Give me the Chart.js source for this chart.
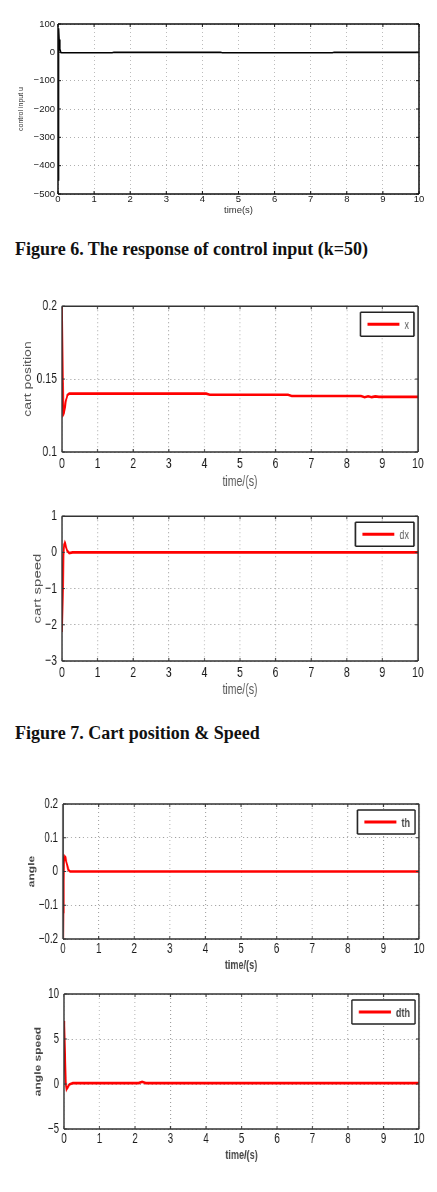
<!DOCTYPE html>
<html>
<head>
<meta charset="utf-8">
<script src="https://cdn.jsdelivr.net/npm/chart.js@4.4.0/dist/chart.umd.min.js"></script>
<style>
body{margin:0;background:#fff;width:437px;height:1192px;position:relative;overflow:hidden}
canvas{position:absolute;left:0;transform-origin:0 0}
.cap{position:absolute;left:15px;font:bold 18px 'Liberation Serif','Times New Roman',serif;line-height:18px;color:#111;white-space:nowrap}
</style>
</head>
<body>
<canvas id="cu" style="top:0px"></canvas>
<div class="cap" style="top:240px">Figure 6. The response of control input (k=50)</div>
<canvas id="cx" style="top:290px"></canvas>
<canvas id="cdx" style="top:500px"></canvas>
<div class="cap" style="top:724px">Figure 7. Cart position &amp; Speed</div>
<canvas id="cth" style="top:785px"></canvas>
<canvas id="cdth" style="top:975px"></canvas>
<script>
// values (time in s)
const tU = [0, 0.01, 0.02, 0.03, 0.05, 0.08, 0.1, 1.5, 1.55, 4.5, 4.55, 7.6, 7.65, 10];
const vU = [-450, 80, 85, 45, 12, -1, -1.5, -1.5, 0, 0, -1.5, -1.5, 0, 0];

const tX = [0, 0.02, 0.04, 0.06, 0.1, 0.15, 0.2, 4.05, 4.15, 6.35, 6.45, 8.4, 8.5, 8.6, 8.7, 8.8, 8.9, 10];
const vX = [0.2, 0.15, 0.126, 0.127, 0.134, 0.139, 0.140, 0.140, 0.1392, 0.1392, 0.1384, 0.1384, 0.1376, 0.1382, 0.1376, 0.1381, 0.1378, 0.1378];

const tDX = [0, 0.02, 0.04, 0.06, 0.08, 0.1, 0.14, 0.2, 0.3, 10];
const vDX = [-2.2, -1.2, -0.1, 0.22, 0.27, 0.2, 0.05, -0.02, 0, 0];

const tTH = [0, 0.01, 0.02, 0.03, 0.05, 0.07, 0.1, 0.15, 0.2, 10];
const vTH = [-0.2, -0.12, -0.03, 0.03, 0.045, 0.042, 0.025, 0.005, 0, 0];

const tDTH = [0, 0.01, 0.03, 0.05, 0.07, 0.1, 0.15, 0.25, 2.1, 2.2, 2.3, 10];
const vDTH = [7, 6.5, 2.5, 0.2, -0.6, -0.4, -0.05, 0.1, 0.1, 0.25, 0.1, 0.1];

const xTicks = [0, 10, 1];

const SANS = "'Liberation Sans',Arial,sans-serif";

function fmt(v) {
  return String(+v.toFixed(3)).replace('-', '\u2212');
}

// rectangle whose vertical edges are widened to survive the horizontal squeeze
function frame(ctx, l, t, w, h, lw, s) {
  ctx.lineWidth = lw;
  ctx.beginPath();
  ctx.moveTo(l, t); ctx.lineTo(l + w, t);
  ctx.moveTo(l, t + h); ctx.lineTo(l + w, t + h);
  ctx.stroke();
  ctx.lineWidth = lw / s;
  ctx.beginPath();
  ctx.moveTo(l, t); ctx.lineTo(l, t + h);
  ctx.moveTo(l + w, t); ctx.lineTo(l + w, t + h);
  ctx.stroke();
}

const boxPlugin = {
  id: 'box',
  afterDraw(chart, args, o) {
    const {ctx, chartArea: a, scales} = chart;
    const s = o.s;
    ctx.save();
    ctx.strokeStyle = o.color;
    ctx.lineWidth = 1 / s;
    ctx.beginPath();
    scales.x.ticks.forEach(t => {
      const p = scales.x.getPixelForValue(t.value);
      ctx.moveTo(p, a.bottom); ctx.lineTo(p, a.bottom - 3);
      ctx.moveTo(p, a.top); ctx.lineTo(p, a.top + 3);
    });
    ctx.stroke();
    ctx.lineWidth = 1;
    ctx.beginPath();
    scales.y.ticks.forEach(t => {
      const p = scales.y.getPixelForValue(t.value);
      ctx.moveTo(a.left, p); ctx.lineTo(a.left + 3 / s, p);
      ctx.moveTo(a.right, p); ctx.lineTo(a.right - 3 / s, p);
    });
    ctx.stroke();
    frame(ctx, a.left, a.top, a.right - a.left, a.bottom - a.top, o.width, s);

    if (o.legend) {
      const ds = chart.data.datasets[0];
      ctx.font = o.legendFont;
      const tw = ctx.measureText(ds.label).width;
      const h = 24, right = a.right - 4 / s, top = a.top + 6;
      const w = (7 + 32 + 5 + 5) / s + tw;
      const left = right - w;
      ctx.fillStyle = '#fff';
      ctx.fillRect(left, top, w, h);
      ctx.strokeStyle = '#222';
      frame(ctx, left, top, w, h, 1.5, s);
      ctx.strokeStyle = ds.borderColor;
      ctx.lineWidth = 3;
      ctx.beginPath();
      ctx.moveTo(left + 7 / s, top + h / 2);
      ctx.lineTo(left + 39 / s, top + h / 2);
      ctx.stroke();
      ctx.fillStyle = o.legendColor;
      ctx.textBaseline = 'middle';
      ctx.fillText(ds.label, left + 44 / s, top + h / 2 + 1);
    }
    ctx.restore();
  }
};

function makeChart(id, g) {
  const s = g.s;
  const W = Math.round(437 / s);
  const cv = document.getElementById(id);
  cv.width = W;
  cv.height = g.h;
  cv.style.transform = 'scaleX(' + (437 / W) + ')';
  const k = W / 437;
  const pts = g.t.map((tt, i) => ({x: tt, y: g.v[i]}));
  return new Chart(cv, {
    type: 'line',
    data: {
      datasets: [{
        label: g.label,
        data: pts,
        borderColor: g.color,
        borderWidth: g.lw,
        pointRadius: 0,
        tension: 0,
        fill: false
      }]
    },
    options: {
      responsive: false,
      animation: false,
      events: [],
      layout: {padding: {left: 0, right: W - g.R * k, top: g.T - g.top, bottom: 0}},
      plugins: {
        legend: {display: false},
        tooltip: {enabled: false},
        box: {s: 1 / k, color: g.frame, width: g.fw, legend: g.legend, legendFont: g.legendFont, legendColor: g.legendColor}
      },
      scales: {
        x: {
          type: 'linear',
          min: xTicks[0], max: xTicks[1],
          afterFit: sc => { sc.height = g.top + g.h - g.B; },
          ticks: {stepSize: xTicks[2], padding: g.xpad, color: '#1a1a1a', font: g.tickFont, maxRotation: 0, callback: fmt},
          grid: {color: g.grid, lineWidth: 0.85 * k, drawTicks: false},
          border: {display: false, dash: [1, 3]},
          title: {display: true, text: g.xTitle, color: g.titleColor, font: g.xTitleFont, padding: {top: 0, bottom: g.xtp}}
        },
        y: {
          type: 'linear',
          min: g.ymin, max: g.ymax,
          afterFit: sc => { sc.width = g.L * k; },
          ticks: {stepSize: g.ystep, padding: g.ypad * k, color: '#1a1a1a', font: g.tickFont, callback: fmt},
          grid: {color: g.grid, lineWidth: 1, drawTicks: false},
          border: {display: false, dash: [1 * k, 3 * k]},
          title: {display: true, text: g.yTitle, color: g.titleColor, font: g.yTitleFont,
                  padding: {top: g.yc * k - g.yTitleFont.size * 0.6, bottom: 0}}
        }
      }
    },
    plugins: [boxPlugin]
  });
}

const redBase = {
  s: 0.7, color: '#ff0000', lw: 2.6, frame: '#333', fw: 1.5, grid: '#9a9a9a', legend: true,
  legendColor: '#555', titleColor: '#555',
  tickFont: {family: SANS, size: 15}, xpad: 3, ypad: 5
};

makeChart('cu', {
  s: 1, t: tU, v: vU, label: 'u', color: '#000', lw: 1.6, frame: '#111', fw: 1.5, grid: '#b0b0b0', legend: false,
  top: 0, h: 222, L: 58, R: 419, T: 24, B: 194,
  ymin: -500, ymax: 100, ystep: 100,
  tickFont: {family: SANS, size: 9.5}, xpad: 0, ypad: 3,
  xTitle: 'time(s)', yTitle: 'control input u', titleColor: '#333',
  xTitleFont: {family: SANS, size: 9.5}, yTitleFont: {family: SANS, size: 7}, xtp: 6, yc: 21
});

makeChart('cx', Object.assign({}, redBase, {
  t: tX, v: vX, label: 'x',
  top: 290, h: 205, L: 62, R: 418, T: 304, B: 452,
  ymin: 0.1, ymax: 0.2, ystep: 0.05,
  xTitle: 'time/(s)', yTitle: 'cart position',
  xTitleFont: {family: SANS, size: 15}, yTitleFont: {family: SANS, size: 14}, xtp: 4, yc: 28,
  legendFont: '13px ' + SANS
}));

makeChart('cdx', Object.assign({}, redBase, {
  t: tDX, v: vDX, label: 'dx',
  top: 500, h: 205, L: 62, R: 418, T: 513, B: 661,
  ymin: -3, ymax: 1, ystep: 1,
  xTitle: 'time/(s)', yTitle: 'cart speed',
  xTitleFont: {family: SANS, size: 15}, yTitleFont: {family: SANS, size: 15}, xtp: 6, yc: 38,
  legendFont: '13px ' + SANS
}));

makeChart('cth', Object.assign({}, redBase, {
  t: tTH, v: vTH, label: 'th',
  top: 785, h: 190, L: 63, R: 419, T: 804, B: 939,
  ymin: -0.2, ymax: 0.2, ystep: 0.1,
  tickFont: {family: SANS, size: 14}, xpad: 2,
  xTitle: 'time/(s)', yTitle: 'angle', titleColor: '#444',
  xTitleFont: {family: SANS, size: 13, weight: 'bold'}, yTitleFont: {family: SANS, size: 12, weight: 'bold'}, xtp: 2, yc: 32,
  legendFont: 'bold 13px ' + SANS, legendColor: '#444'
}));

makeChart('cdth', Object.assign({}, redBase, {
  t: tDTH, v: vDTH, label: 'dth',
  top: 975, h: 190, L: 64, R: 419, T: 994, B: 1129,
  ymin: -5, ymax: 10, ystep: 5,
  tickFont: {family: SANS, size: 14}, xpad: 2,
  xTitle: 'time/(s)', yTitle: 'angle speed', titleColor: '#444',
  xTitleFont: {family: SANS, size: 13, weight: 'bold'}, yTitleFont: {family: SANS, size: 12, weight: 'bold'}, xtp: 2, yc: 38,
  legendFont: 'bold 13px ' + SANS, legendColor: '#444'
}));
</script>
</body>
</html>
